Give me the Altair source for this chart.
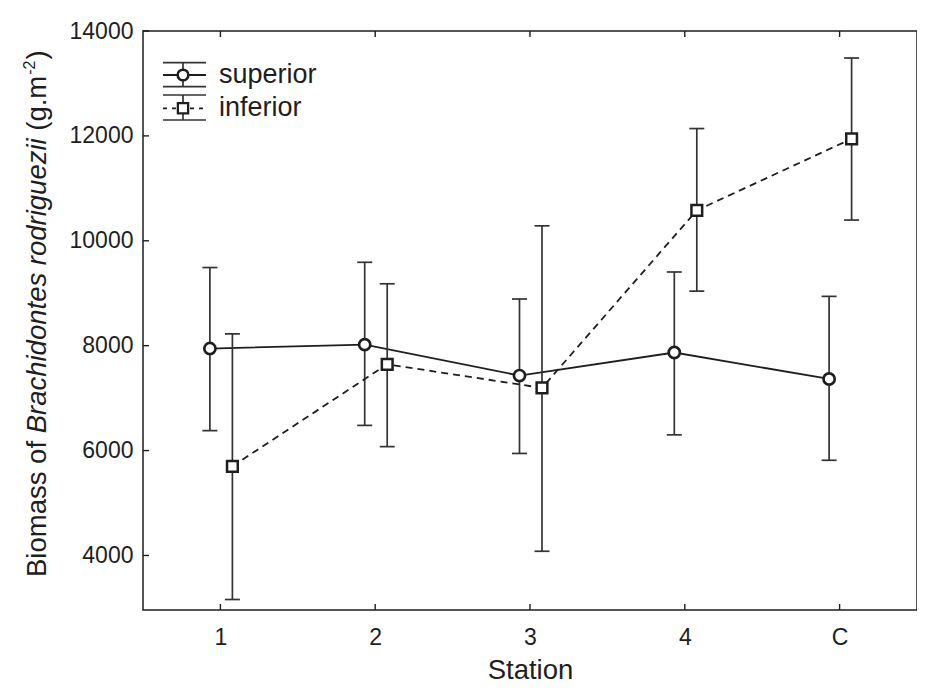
import altair as alt
import pandas as pd

# ---- data ----
stations = ["1", "2", "3", "4", "C"]
sup_mean = [7945, 8020, 7430, 7870, 7365]
sup_upper = [9490, 9590, 8890, 9405, 8940]
sup_lower = [6380, 6480, 5945, 6300, 5815]
inf_mean = [5700, 7645, 7195, 10580, 11945]
inf_upper = [8225, 9180, 10285, 12140, 13485]
inf_lower = [3160, 6075, 4080, 9040, 10395]
y_ticks = [4000, 6000, 8000, 10000, 12000, 14000]
series_names = ["superior", "inferior"]

# ---- style ----
W, H = 774, 579
INK = "#1e1e1e"
BAR = "#333333"
FONT = "Liberation Sans"
TICK_FS = 23
TITLE_FS = 27.5
LEG_FS = 27

sup = pd.DataFrame({"station": stations, "mean": sup_mean, "lower": sup_lower, "upper": sup_upper})
inf = pd.DataFrame({"station": stations, "mean": inf_mean, "lower": inf_lower, "upper": inf_upper})

xs = alt.Scale(type="point", domain=stations, padding=0.5)
ys = alt.Scale(domain=[2960, 14000], nice=False, zero=False)

x_axis = alt.Axis(labelAngle=0, tickSize=0, domain=False, grid=False, labelPadding=16,
                  labelFontSize=TICK_FS, title="Station", titleFontSize=TITLE_FS,
                  titleFontWeight="normal", titlePadding=7)
y_axis = alt.Axis(values=y_ticks, tickSize=0, domain=False, grid=False, labelPadding=10,
                  labelFontSize=TICK_FS, title=None, format="d")


def X():
    return alt.X("station:O", scale=xs, axis=x_axis, sort=stations)


def series_layers(df, off, dash, shape, size, sw):
    base = alt.Chart(df)
    bar = base.mark_rule(color=BAR, strokeWidth=1.7, xOffset=off).encode(
        x=X(), y=alt.Y("lower:Q", scale=ys, axis=y_axis), y2="upper:Q")
    cap_lo = base.mark_rule(color=BAR, strokeWidth=1.7, xOffset=off - 7.5, x2Offset=off + 7.5).encode(
        x=X(), x2="station:O", y=alt.Y("lower:Q", scale=ys, axis=y_axis))
    cap_hi = base.mark_rule(color=BAR, strokeWidth=1.7, xOffset=off - 7.5, x2Offset=off + 7.5).encode(
        x=X(), x2="station:O", y=alt.Y("upper:Q", scale=ys, axis=y_axis))
    line_kw = dict(color=INK, strokeWidth=1.8, xOffset=off)
    if dash:
        line_kw["strokeDash"] = dash
    line = base.mark_line(**line_kw).encode(x=X(), y=alt.Y("mean:Q", scale=ys, axis=y_axis))
    pts = base.mark_point(shape=shape, size=size, filled=True, fill="white", stroke=INK,
                          strokeWidth=sw, opacity=1, fillOpacity=1, strokeOpacity=1,
                          xOffset=off).encode(x=X(), y=alt.Y("mean:Q", scale=ys, axis=y_axis))
    return [bar, cap_lo, cap_hi, line], [pts]


s_back, s_front = series_layers(sup, -10.5, None, "circle", 125, 2.7)
i_back, i_front = series_layers(inf, 12, [7, 5], "square", 115, 2.5)

# inward ticks on the frame
tick_df = pd.DataFrame({"station": stations})
ytick_df = pd.DataFrame({"v": y_ticks})
bottom_ticks = alt.Chart(tick_df).mark_rule(color=INK, strokeWidth=1.4).encode(
    x=X(), y=alt.value(H - 6), y2=alt.value(H))
top_ticks = alt.Chart(tick_df).mark_rule(color=INK, strokeWidth=1.4).encode(
    x=X(), y=alt.value(0), y2=alt.value(6))
left_ticks = alt.Chart(ytick_df).mark_rule(color=INK, strokeWidth=1.4).encode(
    y=alt.Y("v:Q", scale=ys, axis=y_axis), x=alt.value(0), x2=alt.value(6))

one = pd.DataFrame({"a": [0]})

# ---- y-axis title built from segments (normal / italic / superscript) ----
title_x = -105
seg_y0 = 546
SPACE = 0.278 * TITLE_FS
w1 = 5.224 * TITLE_FS          # "Biomass of " (incl. trailing space)
w2 = 10.726 * TITLE_FS         # "Brachidontes rodriguezii"
w3 = 2.0 * TITLE_FS            # "(g.m"
SUP_FS = 16
w4 = 0.889 * SUP_FS            # "-2"
y_seg2 = seg_y0 - w1
y_seg3 = y_seg2 - w2 - SPACE
y_seg4 = y_seg3 - w3 - 1
y_seg5 = y_seg4 - w4 - 1
segments = [
    ("Biomass of", seg_y0, title_x, TITLE_FS, "normal"),
    ("Brachidontes rodriguezii", y_seg2, title_x, TITLE_FS, "italic"),
    ("(g.m", y_seg3, title_x, TITLE_FS, "normal"),
    ("-2", y_seg4, title_x - 8, SUP_FS, "normal"),
    (")", y_seg5, title_x, TITLE_FS, "normal"),
]
title_layers = []
for txt, yy, xx, fs, style in segments:
    title_layers.append(
        alt.Chart(one).mark_text(angle=270, align="left", baseline="middle", font=FONT,
                                 fontSize=fs, fontStyle=style, color=INK).encode(
            x=alt.value(xx), y=alt.value(yy), text=alt.value(txt)))

# ---- legend (top-left, inside the frame) ----
leg = []
lx0, lx1, lxc = 20, 63, 40
for (yc, ytop, ybot, dash, shape, size, sw, name) in [
    (44, 31.7, 55.7, None, "circle", 115, 2.5, series_names[0]),
    (77.3, 64, 89, [4, 5], "square", 105, 2.3, series_names[1]),
]:
    for yy in (ytop, ybot):
        leg.append(alt.Chart(one).mark_rule(color=BAR, strokeWidth=1.7).encode(
            x=alt.value(lx0), x2=alt.value(lx1), y=alt.value(yy)))
    leg.append(alt.Chart(one).mark_rule(color=BAR, strokeWidth=1.7).encode(
        x=alt.value(lxc), y=alt.value(ytop), y2=alt.value(ybot)))
    kw = dict(color=INK, strokeWidth=1.8)
    if dash:
        kw["strokeDash"] = dash
    leg.append(alt.Chart(one).mark_rule(**kw).encode(
        x=alt.value(lx0), x2=alt.value(lx1), y=alt.value(yc)))
    leg.append(alt.Chart(one).mark_point(shape=shape, size=size, filled=True, fill="white",
                                         stroke=INK, strokeWidth=sw, opacity=1).encode(
        x=alt.value(lxc), y=alt.value(yc)))
    leg.append(alt.Chart(one).mark_text(align="left", baseline="middle", font=FONT,
                                        fontSize=LEG_FS, color=INK).encode(
        x=alt.value(76), y=alt.value(yc), text=alt.value(name)))

layers = s_back + i_back + [bottom_ticks, top_ticks, left_ticks] + s_front + i_front + title_layers + leg

chart = alt.layer(*layers).properties(
    width=W, height=H,
    autosize=alt.AutoSizeParams(type="none"),
    padding={"left": 135, "top": 23, "right": 0, "bottom": 80},
    background="white",
).configure_view(
    stroke=INK, strokeWidth=1.5
).configure_axis(
    labelFont=FONT, titleFont=FONT, labelColor=INK, titleColor=INK
)

chart.save("out.html", embed_options={"renderer": "svg", "actions": False})
